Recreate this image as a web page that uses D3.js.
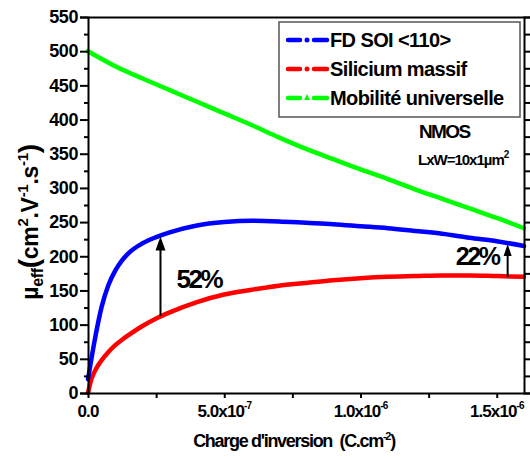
<!DOCTYPE html>
<html>
<head>
<meta charset="utf-8">
<script src="https://cdn.jsdelivr.net/npm/d3@7"></script>
<style>
  html, body { margin: 0; padding: 0; background: #fff; }
  svg { display: block; }
  text { font-family: "Liberation Sans", Arial, sans-serif; font-weight: bold; fill: #000; }
</style>
</head>
<body>
<div id="chart"></div>
<script>
// ---- Data (charge in C.cm^-2, mobility in cm2/V/s) ----
const qBlueRed = [0, 0.1e-7, 0.25e-7, 0.5e-7, 0.75e-7, 1e-7, 1.25e-7, 1.5e-7, 2e-7, 2.5e-7, 3e-7, 4e-7, 5e-7, 6e-7, 7e-7, 8e-7, 9e-7, 10e-7, 11e-7, 12e-7, 13e-7, 14e-7, 15e-7, 16e-7];
const fdsoi = [20, 44, 78, 126, 158, 179, 194, 205, 219, 228, 235, 245, 250, 252, 251, 249, 247, 244, 241, 237, 233, 227, 222, 215];
const bulk  = [0, 17, 32, 48, 60, 70, 78, 85, 98, 109, 118, 133, 144, 151, 157, 161, 165, 168, 170, 171, 172, 172, 171, 170];
const qUniv = [0, 1e-7, 2e-7, 3e-7, 4e-7, 5e-7, 6e-7, 7e-7, 8e-7, 9e-7, 10e-7, 11e-7, 12e-7, 13e-7, 14e-7, 15e-7, 16e-7];
const universal = [500, 478, 460, 443, 426, 409, 392, 374, 357, 342, 327, 313, 298, 284, 270, 256, 241];

const seriesNames = ["FD SOI <110>", "Silicium massif", "Mobilité universelle"];
const seriesColors = ["#0000ff", "#ff0000", "#00ff00"];

const xTicks = [0, 5e-7, 1e-6, 1.5e-6];
const xTickLabels = [["0.0", ""], ["5.0x10", "-7"], ["1.0x10", "-6"], ["1.5x10", "-6"]];
const yTickValues = [0, 50, 100, 150, 200, 250, 300, 350, 400, 450, 500, 550];

// annotations: arrows between bulk and FD SOI
const arrowX = [2.66e-7, 1.54e-6];
const arrowFrom = [113, 170];
const arrowTo = [229, 218];
const arrowLabels = ["52%", "22%"];

// ---- Layout ----
const W = 530, H = 459;
const m = { left: 88, top: 17, right: 6, bottom: 66 };
const pw = W - m.left - m.right, ph = H - m.top - m.bottom;

const svg = d3.select("#chart").append("svg").attr("width", W).attr("height", H);
const g = svg.append("g").attr("transform", `translate(${m.left},${m.top})`);

const x = d3.scaleLinear().domain([0, 1.6e-6]).range([0, pw]);
const y = d3.scaleLinear().domain([0, 550]).range([ph, 0]);

// ---- Curves ----
const line = d3.line().x(d => x(d[0])).y(d => y(d[1])).curve(d3.curveMonotoneX);
const series = [
  { pts: d3.zip(qBlueRed, fdsoi), color: seriesColors[0] },
  { pts: d3.zip(qBlueRed, bulk), color: seriesColors[1] },
  { pts: d3.zip(qUniv, universal), color: seriesColors[2] }
];
series.slice().reverse().forEach(s => {
  g.append("path").datum(s.pts).attr("d", line)
    .attr("fill", "none").attr("stroke", s.color).attr("stroke-width", 4.5)
    .attr("stroke-linecap", "round");
});

// ---- Axes ----
const yAxis = d3.axisLeft(y).tickValues(yTickValues).tickSize(8).tickPadding(2);
const gy = g.append("g").call(yAxis);
gy.select(".domain").attr("stroke-width", 2);
gy.selectAll(".tick line").attr("stroke-width", 2);
gy.selectAll(".tick text").style("font-size", "18px").style("letter-spacing", "-0.4px")
  .style("font-family", "'Liberation Sans', Arial, sans-serif").style("font-weight", "bold");
const minorY = d3.range(25, 550, 50);
g.append("g").call(d3.axisLeft(y).tickValues(minorY).tickSize(4).tickFormat(""))
  .call(a => a.select(".domain").remove())
  .selectAll(".tick line").attr("stroke-width", 2);

// right axis
g.append("g").attr("transform", `translate(${pw},0)`)
  .call(d3.axisRight(y).tickValues(d3.range(0, 551, 25)).tickSize(6).tickFormat(""))
  .call(a => a.select(".domain").attr("stroke-width", 2))
  .selectAll(".tick line").attr("stroke-width", 2);

// top line
g.append("g").call(d3.axisTop(x).tickValues([]).tickSizeOuter(0))
  .select(".domain").attr("stroke-width", 2);

// bottom axis
const gx = g.append("g").attr("transform", `translate(0,${ph})`)
  .call(d3.axisBottom(x).tickValues(d3.range(0, 1.61e-6, 2.5e-7)).tickSize(5).tickSizeOuter(0).tickFormat(""));
gx.select(".domain").attr("stroke-width", 2);
gx.selectAll(".tick line").attr("stroke-width", 2);

// x tick labels
xTicks.forEach((v, i) => {
  const t = g.append("text").attr("x", x(v)).attr("y", ph + 24)
    .attr("text-anchor", "middle").style("font-size", "17px").style("letter-spacing", "-0.9px");
  t.append("tspan").text(xTickLabels[i][0]);
  if (xTickLabels[i][1]) {
    t.append("tspan").attr("dy", -8).style("font-size", "10px").text(xTickLabels[i][1]);
  }
});

// x title
const xt = svg.append("text").attr("x", 294).attr("y", 447).attr("text-anchor", "middle")
  .style("font-size", "18px").style("letter-spacing", "-1.3px");
xt.append("tspan").text("Charge d'inversion\u00a0\u00a0(C.cm");
xt.append("tspan").attr("dy", -7).style("font-size", "11px").text("-2");
xt.append("tspan").attr("dy", 7).text(")");

// y title
const yt = svg.append("text").attr("transform", "translate(38,222) rotate(-90)")
  .attr("text-anchor", "middle").style("font-size", "23px").style("letter-spacing", "-0.3px");
yt.append("tspan").text("µ");
yt.append("tspan").attr("dy", 5).style("font-size", "16px").text("eff");
yt.append("tspan").attr("dy", -5).style("font-size", "28px").text("(");
yt.append("tspan").text("cm");
yt.append("tspan").attr("dy", -10).style("font-size", "15px").text("2");
yt.append("tspan").attr("dy", 10).text(".V");
yt.append("tspan").attr("dy", -10).style("font-size", "15px").text("-1");
yt.append("tspan").attr("dy", 10).text(".s");
yt.append("tspan").attr("dy", -10).style("font-size", "15px").text("-1");
yt.append("tspan").attr("dy", 10).style("font-size", "28px").text(")");

// ---- Arrows ----
arrowX.forEach((v, i) => {
  const ax = x(v), y0 = y(arrowFrom[i]), y1 = y(arrowTo[i]);
  const hl = i === 0 ? 14 : 12, hw = i === 0 ? 5 : 4;
  g.append("line").attr("x1", ax).attr("x2", ax).attr("y1", y0).attr("y2", y1 + hl - 2)
    .attr("stroke", "#000").attr("stroke-width", 2);
  g.append("path").attr("d", `M${ax},${y1} L${ax - hw},${y1 + hl} L${ax + hw},${y1 + hl} Z`).attr("fill", "#000");
});
g.append("text").attr("x", x(arrowX[0]) + 16).attr("y", 288 - m.top)
  .style("font-size", "26px").style("letter-spacing", "-2.4px").text(arrowLabels[0]);
g.append("text").attr("x", x(arrowX[1]) - 52).attr("y", 265 - m.top)
  .style("font-size", "25px").style("letter-spacing", "-2.4px").text(arrowLabels[1]);

// ---- Legend ----
const lg = svg.append("g");
lg.append("rect").attr("x", 279).attr("y", 22).attr("width", 241).attr("height", 95)
  .attr("fill", "#fff").attr("stroke", "#555").attr("stroke-width", 1.5);
seriesNames.forEach((name, i) => {
  const ly = 40 + i * 29;
  const c = seriesColors[i];
  lg.append("line").attr("x1", 288).attr("x2", 300).attr("y1", ly).attr("y2", ly)
    .attr("stroke", c).attr("stroke-width", 4.5).attr("stroke-linecap", "round");
  lg.append("line").attr("x1", 314).attr("x2", 327).attr("y1", ly).attr("y2", ly)
    .attr("stroke", c).attr("stroke-width", 4.5).attr("stroke-linecap", "round");
  if (i < 2) {
    lg.append("circle").attr("cx", 307).attr("cy", ly).attr("r", 2.5).attr("fill", c);
  } else {
    lg.append("path").attr("d", `M307,${ly - 4} L310,${ly + 2} L304,${ly + 2} Z`).attr("fill", c);
  }
  lg.append("text").attr("x", 330).attr("y", ly + 7).style("font-size", "20px")
    .style("letter-spacing", "-0.6px").text(name);
});

// ---- Device text ----
svg.append("text").attr("x", 419).attr("y", 138).style("font-size", "19px")
  .style("letter-spacing", "-1.6px").text("NMOS");
const dev = svg.append("text").attr("x", 418).attr("y", 165).style("font-size", "15px")
  .style("letter-spacing", "-1px");
dev.append("tspan").text("LxW=10x1µm");
dev.append("tspan").attr("dy", -7).style("font-size", "10px").text("2");
</script>
</body>
</html>
